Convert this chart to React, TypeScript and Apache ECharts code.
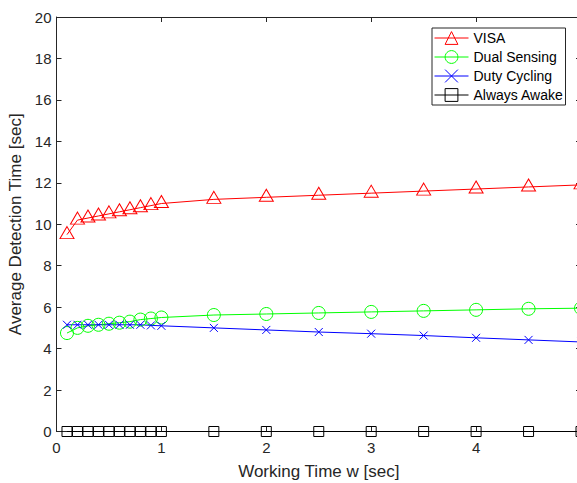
import React, { useEffect, useRef } from "react";
import * as echarts from "echarts";

const xValues = [0.1, 0.2, 0.3, 0.4, 0.5, 0.6, 0.7, 0.8, 0.9, 1.0, 1.5, 2, 2.5, 3, 3.5, 4, 4.5, 5];
const visa = [9.5, 10.2, 10.3, 10.4, 10.5, 10.6, 10.7, 10.8, 10.9, 11.0, 11.2, 11.3, 11.4, 11.5, 11.6, 11.7, 11.8, 11.9];
const dualSensing = [4.75, 5.0, 5.1, 5.15, 5.2, 5.25, 5.3, 5.4, 5.45, 5.5, 5.62, 5.67, 5.72, 5.77, 5.82, 5.87, 5.92, 5.95];
const dutyCycling = [5.15, 5.15, 5.15, 5.15, 5.15, 5.15, 5.15, 5.15, 5.12, 5.1, 5.0, 4.9, 4.8, 4.72, 4.63, 4.52, 4.42, 4.32];
const alwaysAwake = [0, 0, 0, 0, 0, 0, 0, 0, 0, 0, 0, 0, 0, 0, 0, 0, 0, 0];
const seriesNames = ["VISA", "Dual Sensing", "Duty Cycling", "Always Awake"];
const xTitle = "Working Time w [sec]";
const yTitle = "Average Detection Time [sec]";

const FONT = "'Liberation Sans', Arial, Helvetica, sans-serif";
const AX = "#262626";
const CLEAR = "rgba(255,255,255,0)";

function pairs(ys: number[]) {
  return xValues.map((x, i) => [x, ys[i]]);
}

export default function App() {
  const ref = useRef<HTMLDivElement>(null);
  useEffect(() => {
    if (!ref.current) return;
    const chart = echarts.init(ref.current, undefined, { renderer: "svg" });
    const axisCommon = {
      axisLine: { show: true, onZero: false, lineStyle: { color: AX, width: 1 } },
      axisTick: { show: true, inside: true, length: 5, lineStyle: { color: AX, width: 1 } },
      splitLine: { show: false },
    };
    chart.setOption({
      animation: false,
      backgroundColor: "#fff",
      textStyle: { fontFamily: FONT },
      grid: {
        left: 56.5,
        width: 524.5,
        top: 17,
        bottom: 51.5,
        containLabel: false,
        outerBoundsMode: "none",
      },
      xAxis: [
        {
          type: "value",
          min: 0,
          max: 5,
          interval: 1,
          position: "bottom",
          ...axisCommon,
          axisLabel: { margin: 8, fontSize: 15, color: AX, fontFamily: FONT },
          name: xTitle,
          nameLocation: "middle",
          nameGap: 31,
          nameTextStyle: { fontSize: 17, color: AX, fontFamily: FONT },
        },
        {
          type: "value",
          min: 0,
          max: 5,
          interval: 1,
          position: "top",
          ...axisCommon,
          axisLabel: { show: false },
        },
      ],
      yAxis: [
        {
          type: "value",
          min: 0,
          max: 20,
          interval: 2,
          position: "left",
          ...axisCommon,
          axisLabel: { margin: 5, fontSize: 15, color: AX, fontFamily: FONT },
          name: yTitle,
          nameLocation: "middle",
          nameGap: 28,
          nameTextStyle: { fontSize: 17, color: AX, fontFamily: FONT },
        },
        {
          type: "value",
          min: 0,
          max: 20,
          interval: 2,
          position: "right",
          ...axisCommon,
          axisLabel: { show: false },
        },
      ],
      legend: {
        left: 432,
        top: 28,
        orient: "vertical",
        itemWidth: 34,
        itemHeight: 16,
        itemGap: 5,
        padding: [3, 2, 3, 2],
        borderColor: AX,
        borderWidth: 1,
        backgroundColor: "#fff",
        itemStyle: { borderWidth: 1 },
        lineStyle: { width: 1 },
        textStyle: { fontSize: 14, color: "#000", fontFamily: FONT },
        data: seriesNames,
      },
      series: [
        {
          name: seriesNames[0],
          type: "line",
          data: pairs(visa),
          symbol: "triangle",
          symbolSize: [14, 12],
          symbolOffset: [0, -2],
          lineStyle: { color: "#ff0000", width: 1 },
          itemStyle: { color: CLEAR, borderColor: "#ff0000", borderWidth: 1 },
        },
        {
          name: seriesNames[1],
          type: "line",
          data: pairs(dualSensing),
          symbol: "circle",
          symbolSize: 13,
          lineStyle: { color: "#00ff00", width: 1 },
          itemStyle: { color: CLEAR, borderColor: "#00ff00", borderWidth: 1 },
        },
        {
          name: seriesNames[2],
          type: "line",
          data: pairs(dutyCycling),
          symbol: "path://M0,0L10,10M10,0L0,10",
          symbolSize: 8,
          lineStyle: { color: "#0000ff", width: 1 },
          itemStyle: { color: "#0000ff", borderColor: "#0000ff", borderWidth: 1 },
        },
        {
          name: seriesNames[3],
          type: "line",
          data: pairs(alwaysAwake),
          symbol: "rect",
          symbolSize: 10,
          lineStyle: { color: "#000000", width: 1 },
          itemStyle: { color: CLEAR, borderColor: "#000000", borderWidth: 1 },
        },
      ],
    });
    return () => chart.dispose();
  }, []);
  return (
    <div
      ref={ref}
      style={{ position: "fixed", left: 0, top: 0, width: 577, height: 483, background: "#fff" }}
    />
  );
}
